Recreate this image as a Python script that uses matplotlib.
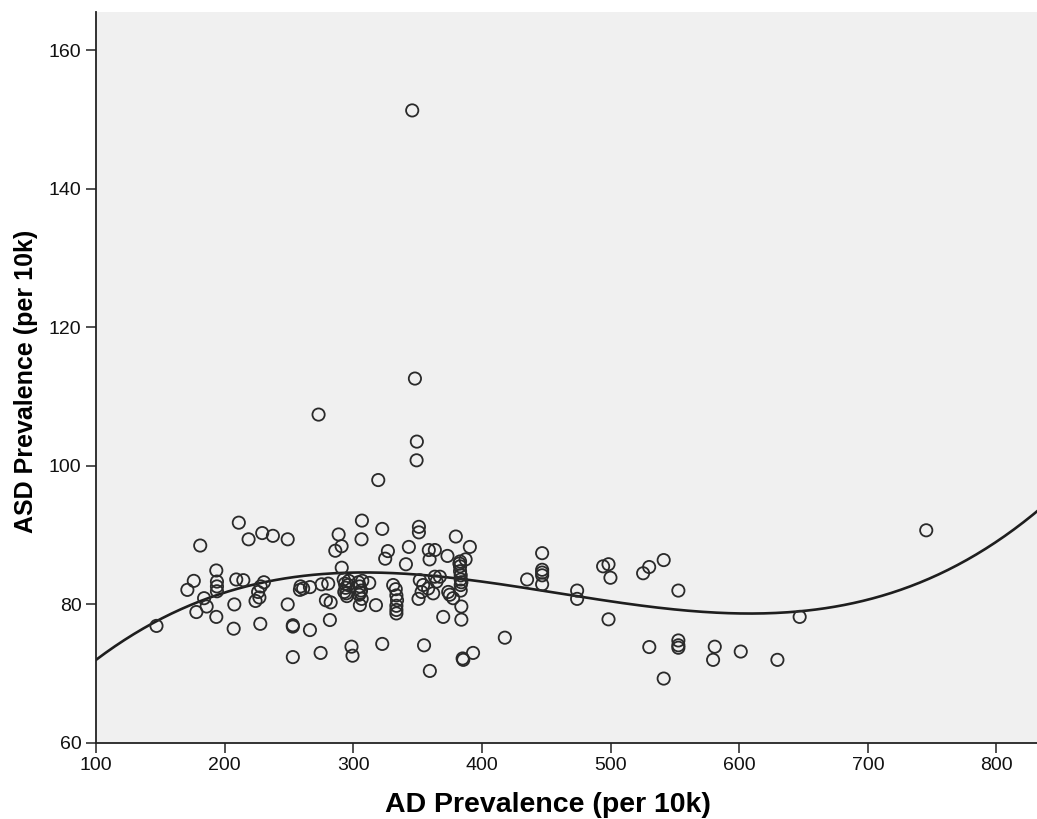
import numpy as np
import matplotlib
matplotlib.use("Agg")
import matplotlib.pyplot as plt

# AD vs ASD prevalence (per 10k)
ad_prev = [
    147, 171, 176, 178, 181, 184, 186, 193.5, 194, 194, 194, 193.5,
    207.5, 207, 209, 211, 214.5, 218.6, 224, 226, 228, 230.5, 227, 227.7,
    229.2, 237.5, 249, 249, 253, 253, 253, 258.5, 259, 261, 266.3, 266.3,
    274.6, 275.4, 273, 278.7, 282.4, 281.8, 280.5,
    288.6, 286, 290.9, 291,
    292.5, 293.5, 294, 293, 295, 296, 294.5, 296.5,
    304, 305, 306, 304.5, 306.5, 307, 305.5, 305.1,
    298.6, 299.4, 306.7, 306.4, 312.4, 317.6, 319.4, 322.5, 322.5, 324.8,
    326.9, 331, 333, 333.5, 334, 333.5, 333.5, 333.5,
    340.9, 343.2, 345.8, 347.9, 349.4, 349.2, 351, 351, 350.7,
    351.7, 354.3, 363.4, 364.7, 358.2, 353.1, 362.1,
    355, 358.7, 363.4, 359.3, 359.5, 367.3, 369.9, 373.2,
    373.8, 375, 377.6, 379.7,
    383, 383, 383, 383.5, 383.5, 383.5, 383.5, 382.5, 384,
    384, 384, 385, 385.5, 387.3, 390.6, 393.1,
    417.8, 435.1, 446.8, 446.8, 446.8, 446.8, 446.8, 474, 474,
    494.2, 498.4, 499.9, 498.4, 525.3, 530, 530.1, 541.3, 541.3,
    552.7, 552.7, 552.7, 552.7, 581, 579.7, 601.2, 629.7, 647, 745.4,
]
asd_prev = [
    76.9, 82.1, 83.4, 78.9, 88.5, 80.9, 79.7, 84.9, 83.3, 82.6, 81.9, 78.2,
    80.0, 76.5, 83.6, 91.8, 83.5, 89.4, 80.5, 81.8, 82.6, 83.2, 81.0, 77.2,
    90.3, 89.9, 89.4, 80.0, 77.0, 76.8, 72.4, 82.1, 82.6, 82.3, 82.5, 76.3,
    73.0, 82.9, 107.4, 80.6, 80.3, 77.75, 83.0,
    90.1, 87.75, 88.4, 85.3,
    83.6, 83.0, 82.4, 81.8, 81.2, 82.8, 81.6, 83.4,
    83.2, 82.6, 82.0, 81.4, 80.8, 83.4, 81.7, 79.9,
    73.9, 72.6, 92.1, 89.4, 83.1, 79.9, 97.95, 90.9, 74.3, 86.6,
    87.7, 82.8, 82.2, 81.3, 80.6, 79.8, 79.2, 78.7,
    85.8, 88.3, 151.3, 112.6, 103.5, 100.8, 91.2, 90.4, 80.8,
    83.5, 82.8, 84.0, 83.3, 82.3, 81.8, 81.6,
    74.1, 87.85, 87.85, 86.5, 70.4, 84.0, 78.2, 87.0,
    81.8, 81.4, 80.9, 89.8,
    86.2, 85.5, 84.8, 84.2, 83.6, 82.8, 82.0, 85.9, 83.2,
    79.7, 77.8, 72.2, 72.0, 86.5, 88.3, 73.0,
    75.2, 83.6, 87.4, 85.0, 84.6, 84.2, 82.9, 82.0, 80.8,
    85.5, 85.8, 83.85, 77.85, 84.5, 85.4, 73.85, 86.4, 69.3,
    82.0, 74.8, 74.1, 73.75, 73.9, 72.0, 73.2, 72.0, 78.2, 90.7,
]

# cubic fit line: y = c0 + c1*t + c2*t^2 + c3*t^3 with t = (x - 450) / 100
fit_center = 450
fit_scale = 100
fit_coefs = [81.90, -2.957, -0.112, 0.4403]

x_ticks = [100, 200, 300, 400, 500, 600, 700, 800]
y_ticks = [60, 80, 100, 120, 140, 160]

fig = plt.figure(figsize=(10.37, 8.19), dpi=100)
ax = fig.add_axes([0.0926, 0.0928, 0.9074, 0.8925])
ax.set_facecolor("#f0f0f0")

ax.scatter(ad_prev, asd_prev, s=78, facecolors="none", edgecolors="#2a2a2a",
           linewidths=1.3, zorder=3)

xs = np.linspace(100, 832, 400)
t = (xs - fit_center) / fit_scale
ys = sum(c * t ** i for i, c in enumerate(fit_coefs))
ax.plot(xs, ys, color="#1e1e1e", lw=1.9, zorder=2)

ax.set_xlim(100, 831.5)
ax.set_ylim(60, 165.5)
ax.set_xticks(x_ticks)
ax.set_yticks(y_ticks)

for s in ["top", "right"]:
    ax.spines[s].set_visible(False)
for s in ["left", "bottom"]:
    ax.spines[s].set_color("#222222")
    ax.spines[s].set_linewidth(1.3)

ax.tick_params(axis="both", direction="out", length=7, width=1.1, color="#222222",
               labelsize=14, labelcolor="#111111")
ax.tick_params(axis="x", pad=3)
for lab in ax.get_xticklabels() + ax.get_yticklabels():
    lab.set_family("Liberation Sans")

ax.set_xlabel("AD Prevalence (per 10k)", fontsize=20.5, fontweight="bold",
              family="Liberation Sans")
ax.set_ylabel("ASD Prevalence (per 10k)", fontsize=18, fontweight="bold",
              family="Liberation Sans")
ax.xaxis.set_label_coords(0.48, -0.067)
ax.yaxis.set_label_coords(-0.062, 0.495)

fig.savefig("out.png", dpi=100)
